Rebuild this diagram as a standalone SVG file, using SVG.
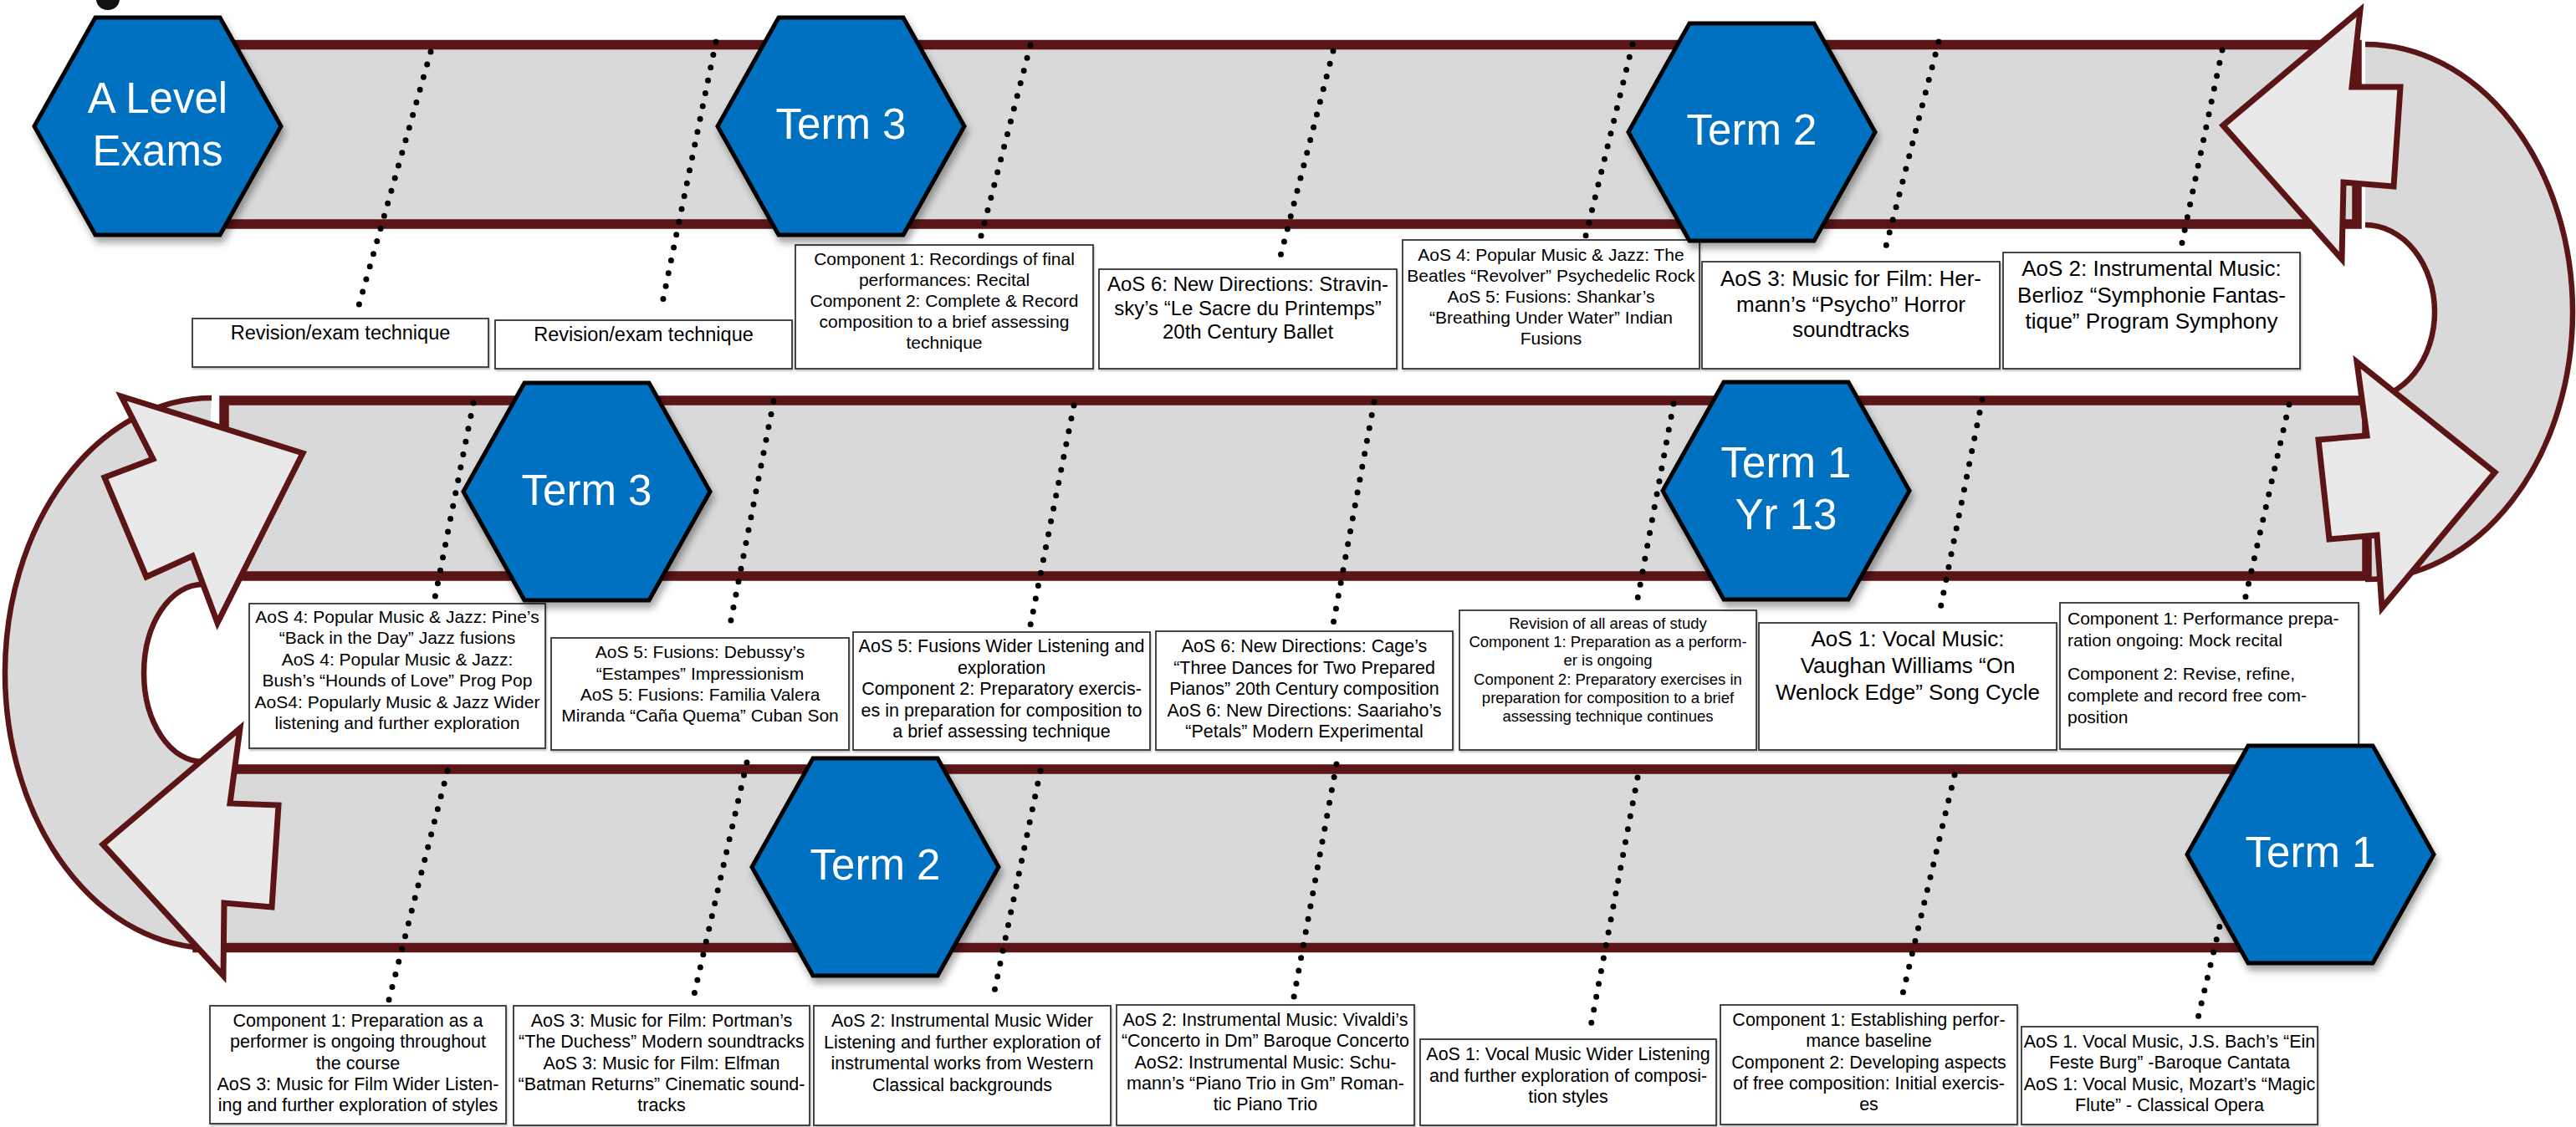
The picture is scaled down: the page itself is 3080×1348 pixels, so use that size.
<svg xmlns="http://www.w3.org/2000/svg" width="3080" height="1348" viewBox="0 0 3080 1348">
<defs>
<style>
.band{fill:#d9d9d9;stroke:#5b1517;stroke-width:11.5}
.cfill{fill:#d9d9d9;stroke:none}
.cline{fill:none;stroke:#5b1517;stroke-width:6.5}
.arrow{fill:#e9e9e9;stroke:#5b1517;stroke-width:7;stroke-linejoin:miter}
.dots{fill:none;stroke:#000;stroke-width:7;stroke-linecap:round;stroke-dasharray:0 15.7}
.box{fill:#fff;stroke:#333;stroke-width:1.8;filter:url(#bsh)}
.bt{font-family:"Liberation Sans",Arial,sans-serif;font-size:21.5px;fill:#000;text-anchor:middle}
.hex{fill:#0070c0;stroke:#000;stroke-width:5;filter:url(#sh)}
.ht{font-family:"Liberation Sans",Arial,sans-serif;font-size:51px;fill:#fff;text-anchor:middle}
</style>
<filter id="sh" x="-20%" y="-20%" width="140%" height="150%">
<feDropShadow dx="3" dy="7" stdDeviation="4" flood-color="#000" flood-opacity="0.35"/>
</filter>
<filter id="bsh" x="-5%" y="-5%" width="110%" height="115%">
<feDropShadow dx="1" dy="2" stdDeviation="1" flood-color="#000" flood-opacity="0.25"/>
</filter>
<path id="hexshape" d="M0,0 L73,-130 L222,-130 L295,0 L222,130 L73,130 Z"/>
</defs>

<g id="uturn-left">
<path class="cfill" d="M253,476 A247,329 0 0 0 253,1134 L242,911 A70,106 0 0 1 242,699 Z"/>
<path class="cline" d="M253,476 A247,329 0 0 0 253,1134 M242,911 A70,106 0 0 1 242,699"/>
</g>
<g id="uturn-right">
<path class="cfill" d="M2828,53 A248,320 0 0 1 2828,693 L2828,477 A83,104 0 0 0 2828,269 Z"/>
<path class="cline" d="M2828,53 A248,320 0 0 1 2828,693 M2828,477 A83,104 0 0 0 2828,269"/>
</g>

<g id="bands">
<rect class="band" x="200" y="53.5" width="2618" height="214.5"/>
<rect class="band" x="268" y="479" width="2562" height="210"/>
<rect class="band" x="236" y="920" width="2524" height="213.5"/>
</g>

<g id="arrows">
<polygon class="arrow" points="2658,150 2822,12 2812,104 2870,104 2862,223 2802,218 2800,310"/>
<polygon class="arrow" points="2772,526 2830,521 2818,433 2983,565 2848,727 2842,640 2785,645"/>
<polygon class="arrow" points="145,474 362,542 260,745 230,665 175,690 125,571 183,549"/>
<polygon class="arrow" points="287,871 275,961 333,963 325,1085 268,1080 267,1167 123,1010"/>
</g>

<g id="connectors">
<line class="dots" x1="515" y1="62" x2="426" y2="376"/>
<line class="dots" x1="856" y1="50" x2="790" y2="372"/>
<line class="dots" x1="1232" y1="54" x2="1171" y2="290"/>
<line class="dots" x1="1594" y1="61" x2="1528" y2="318"/>
<line class="dots" x1="1952" y1="53" x2="1896" y2="282"/>
<line class="dots" x1="2318" y1="50" x2="2252" y2="306"/>
<line class="dots" x1="2657" y1="60" x2="2607" y2="300"/>
<line class="dots" x1="566" y1="482" x2="519" y2="720"/>
<line class="dots" x1="925" y1="480" x2="871" y2="757"/>
<line class="dots" x1="1284" y1="485" x2="1231" y2="753"/>
<line class="dots" x1="1643" y1="481" x2="1593" y2="752"/>
<line class="dots" x1="2001" y1="483" x2="1956" y2="727"/>
<line class="dots" x1="2370" y1="478" x2="2318" y2="738"/>
<line class="dots" x1="2737" y1="484" x2="2684" y2="718"/>
<line class="dots" x1="535" y1="922" x2="464" y2="1200"/>
<line class="dots" x1="893" y1="912" x2="828" y2="1198"/>
<line class="dots" x1="1244" y1="922" x2="1187" y2="1195"/>
<line class="dots" x1="1598" y1="914" x2="1546" y2="1198"/>
<line class="dots" x1="1958" y1="930" x2="1900" y2="1238"/>
<line class="dots" x1="2337" y1="927" x2="2273" y2="1197"/>
<line class="dots" x1="2697" y1="925" x2="2627" y2="1222"/>
</g>

<g id="box-b1"><rect class="box" x="230" y="381" width="354" height="58"/>
<text class="bt" style="font-size:23.5px"><tspan x="407" y="406">Revision/exam technique</tspan></text></g>
<g id="box-b2"><rect class="box" x="592" y="383" width="355" height="58"/>
<text class="bt" style="font-size:23.5px"><tspan x="769.5" y="408">Revision/exam technique</tspan></text></g>
<g id="box-b3"><rect class="box" x="951" y="293" width="356" height="148"/>
<text class="bt" style="font-size:21px"><tspan x="1129" y="317">Component 1: Recordings of final</tspan><tspan x="1129" y="342">performances: Recital</tspan><tspan x="1129" y="367">Component 2: Complete &amp; Record</tspan><tspan x="1129" y="392">composition to a brief assessing</tspan><tspan x="1129" y="417">technique</tspan></text></g>
<g id="box-b4"><rect class="box" x="1314" y="322" width="356" height="119"/>
<text class="bt" style="font-size:24px"><tspan x="1492" y="348">AoS 6: New Directions: Stravin-</tspan><tspan x="1492" y="376.5">sky’s “Le Sacre du Printemps”</tspan><tspan x="1492" y="405">20th Century Ballet</tspan></text></g>
<g id="box-b5"><rect class="box" x="1677" y="287" width="355" height="154"/>
<text class="bt" style="font-size:21px"><tspan x="1854.5" y="312">AoS 4: Popular Music &amp; Jazz: The</tspan><tspan x="1854.5" y="337">Beatles “Revolver” Psychedelic Rock</tspan><tspan x="1854.5" y="362">AoS 5: Fusions: Shankar’s</tspan><tspan x="1854.5" y="387">“Breathing Under Water” Indian</tspan><tspan x="1854.5" y="412">Fusions</tspan></text></g>
<g id="box-b6"><rect class="box" x="2035" y="313" width="356" height="128"/>
<text class="bt" style="font-size:26px"><tspan x="2213" y="342">AoS 3: Music for Film: Her-</tspan><tspan x="2213" y="372.5">mann’s “Psycho” Horror</tspan><tspan x="2213" y="403">soundtracks</tspan></text></g>
<g id="box-b7"><rect class="box" x="2395" y="302" width="355" height="139"/>
<text class="bt" style="font-size:26px"><tspan x="2572.5" y="330">AoS 2: Instrumental Music:</tspan><tspan x="2572.5" y="361.5">Berlioz “Symphonie Fantas-</tspan><tspan x="2572.5" y="393">tique” Program Symphony</tspan></text></g>

<g id="box-b8"><rect class="box" x="298" y="722" width="354" height="173"/>
<text class="bt" style="font-size:21px"><tspan x="475" y="745">AoS 4: Popular Music &amp; Jazz: Pine’s</tspan><tspan x="475" y="770.4">“Back in the Day” Jazz fusions</tspan><tspan x="475" y="795.8">AoS 4: Popular Music &amp; Jazz:</tspan><tspan x="475" y="821.2">Bush’s “Hounds of Love” Prog Pop</tspan><tspan x="475" y="846.6">AoS4: Popularly Music &amp; Jazz Wider</tspan><tspan x="475" y="872">listening and further exploration</tspan></text></g>
<g id="box-b9"><rect class="box" x="659" y="763" width="356" height="134"/>
<text class="bt" style="font-size:21px"><tspan x="837" y="787">AoS 5: Fusions: Debussy’s</tspan><tspan x="837" y="812.5">“Estampes” Impressionism</tspan><tspan x="837" y="838">AoS 5: Fusions: Familia Valera</tspan><tspan x="837" y="863">Miranda “Caña Quema” Cuban Son</tspan></text></g>
<g id="box-b10"><rect class="box" x="1020" y="756" width="355" height="141"/>
<text class="bt"><tspan x="1197.5" y="780">AoS 5: Fusions Wider Listening and</tspan><tspan x="1197.5" y="805.5">exploration</tspan><tspan x="1197.5" y="831">Component 2: Preparatory exercis-</tspan><tspan x="1197.5" y="856.5">es in preparation for composition to</tspan><tspan x="1197.5" y="882">a brief assessing technique</tspan></text></g>
<g id="box-b11"><rect class="box" x="1382" y="755" width="355" height="142"/>
<text class="bt"><tspan x="1559.5" y="780">AoS 6: New Directions: Cage’s</tspan><tspan x="1559.5" y="805.5">“Three Dances for Two Prepared</tspan><tspan x="1559.5" y="831">Pianos” 20th Century composition</tspan><tspan x="1559.5" y="856.5">AoS 6: New Directions: Saariaho’s</tspan><tspan x="1559.5" y="882">“Petals” Modern Experimental</tspan></text></g>
<g id="box-b12"><rect class="box" x="1745" y="730" width="355" height="167"/>
<text class="bt" style="font-size:18.5px"><tspan x="1922.5" y="752">Revision of all areas of study</tspan><tspan x="1922.5" y="774.2">Component 1: Preparation as a perform-</tspan><tspan x="1922.5" y="796.4">er is ongoing</tspan><tspan x="1922.5" y="818.6">Component 2: Preparatory exercises in</tspan><tspan x="1922.5" y="840.8">preparation for composition to a brief</tspan><tspan x="1922.5" y="863">assessing technique continues</tspan></text></g>
<g id="box-b13"><rect class="box" x="2103" y="745" width="356" height="152"/>
<text class="bt" style="font-size:26px"><tspan x="2281" y="773">AoS 1: Vocal Music:</tspan><tspan x="2281" y="805">Vaughan Williams “On</tspan><tspan x="2281" y="837">Wenlock Edge” Song Cycle</tspan></text></g>
<g id="box-b14"><rect class="box" x="2463" y="721" width="357" height="175"/>
<text class="bt" style="font-size:21px;text-anchor:start"><tspan x="2472" y="747">Component 1: Performance prepa-</tspan><tspan x="2472" y="772.5">ration ongoing: Mock recital</tspan><tspan x="2472" y="813">Component 2: Revise, refine,</tspan><tspan x="2472" y="839">complete and record free com-</tspan><tspan x="2472" y="865">position</tspan></text></g>

<g id="box-b15"><rect class="box" x="251" y="1203" width="354" height="141"/>
<text class="bt"><tspan x="428" y="1228">Component 1: Preparation as a</tspan><tspan x="428" y="1253.3">performer is ongoing throughout</tspan><tspan x="428" y="1278.6">the course</tspan><tspan x="428" y="1304">AoS 3: Music for Film Wider Listen-</tspan><tspan x="428" y="1329">ing and further exploration of styles</tspan></text></g>
<g id="box-b16"><rect class="box" x="614" y="1203" width="354" height="143"/>
<text class="bt"><tspan x="791" y="1228">AoS 3: Music for Film: Portman’s</tspan><tspan x="791" y="1253.3">“The Duchess” Modern soundtracks</tspan><tspan x="791" y="1278.6">AoS 3: Music for Film: Elfman</tspan><tspan x="791" y="1304">“Batman Returns” Cinematic sound-</tspan><tspan x="791" y="1329">tracks</tspan></text></g>
<g id="box-b17"><rect class="box" x="973" y="1203" width="355" height="143"/>
<text class="bt"><tspan x="1150.5" y="1228">AoS 2: Instrumental Music Wider</tspan><tspan x="1150.5" y="1253.7">Listening and further exploration of</tspan><tspan x="1150.5" y="1279.3">instrumental works from Western</tspan><tspan x="1150.5" y="1305">Classical backgrounds</tspan></text></g>
<g id="box-b18"><rect class="box" x="1335" y="1202" width="356" height="144"/>
<text class="bt"><tspan x="1513" y="1227">AoS 2: Instrumental Music: Vivaldi’s</tspan><tspan x="1513" y="1252.3">“Concerto in Dm” Baroque Concerto</tspan><tspan x="1513" y="1277.6">AoS2: Instrumental Music: Schu-</tspan><tspan x="1513" y="1303">mann’s “Piano Trio in Gm” Roman-</tspan><tspan x="1513" y="1328">tic Piano Trio</tspan></text></g>
<g id="box-b19"><rect class="box" x="1698" y="1243" width="354" height="103"/>
<text class="bt"><tspan x="1875" y="1268">AoS 1: Vocal Music Wider Listening</tspan><tspan x="1875" y="1293.5">and further exploration of composi-</tspan><tspan x="1875" y="1319">tion styles</tspan></text></g>
<g id="box-b20"><rect class="box" x="2057" y="1202" width="355" height="143"/>
<text class="bt"><tspan x="2234.5" y="1227">Component 1: Establishing perfor-</tspan><tspan x="2234.5" y="1252.3">mance baseline</tspan><tspan x="2234.5" y="1277.6">Component 2: Developing aspects</tspan><tspan x="2234.5" y="1303">of free composition: Initial exercis-</tspan><tspan x="2234.5" y="1328">es</tspan></text></g>
<g id="box-b21"><rect class="box" x="2417" y="1228" width="354" height="117"/>
<text class="bt"><tspan x="2594" y="1253">AoS 1. Vocal Music, J.S. Bach’s “Ein</tspan><tspan x="2594" y="1278.3">Feste Burg” -Baroque Cantata</tspan><tspan x="2594" y="1303.7">AoS 1: Vocal Music, Mozart’s “Magic</tspan><tspan x="2594" y="1329">Flute” - Classical Opera</tspan></text></g>

<g id="hex-alevel"><use href="#hexshape" class="hex" transform="translate(41,151)"/>
<text class="ht"><tspan x="188.5" y="135">A Level</tspan><tspan x="188.5" y="198">Exams</tspan></text></g>
<g id="hex-term3-y13"><use href="#hexshape" class="hex" transform="translate(858,151)"/>
<text class="ht"><tspan x="1005.5" y="166">Term 3</tspan></text></g>
<g id="hex-term2-y13"><use href="#hexshape" class="hex" transform="translate(1947,158)"/>
<text class="ht"><tspan x="2094.5" y="173">Term 2</tspan></text></g>
<g id="hex-term3-y12"><use href="#hexshape" class="hex" transform="translate(554,588)"/>
<text class="ht"><tspan x="701.5" y="604">Term 3</tspan></text></g>
<g id="hex-term1-y13"><use href="#hexshape" class="hex" transform="translate(1988,587)"/>
<text class="ht"><tspan x="2135.5" y="571">Term 1</tspan><tspan x="2135.5" y="633">Yr 13</tspan></text></g>
<g id="hex-term2-y12"><use href="#hexshape" class="hex" transform="translate(899,1037)"/>
<text class="ht"><tspan x="1046.5" y="1052">Term 2</tspan></text></g>
<g id="hex-term1-y12"><use href="#hexshape" class="hex" transform="translate(2615,1022)"/>
<text class="ht"><tspan x="2762.5" y="1037">Term 1</tspan></text></g>

<ellipse cx="129" cy="-1" rx="14" ry="13" fill="#111"/>
</svg>
